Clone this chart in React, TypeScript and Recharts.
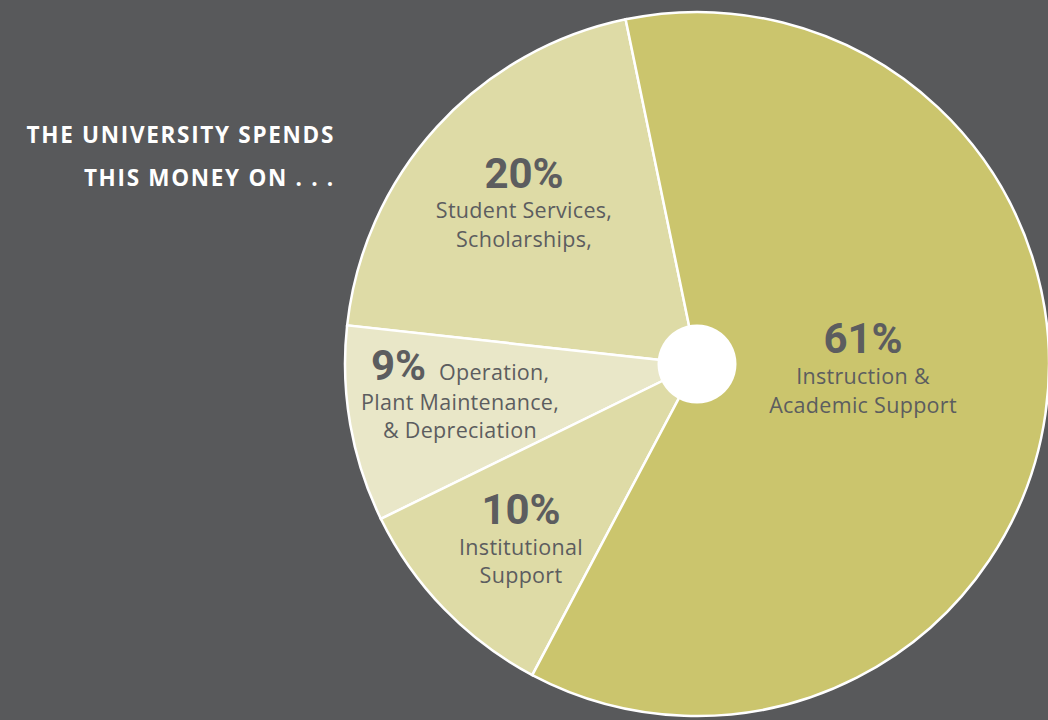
import React from "react";
import { PieChart, Pie, Cell } from "recharts";

const categories = ["Student Services", "Operation & Maintenance", "Institutional Support", "Instruction & Academic Support"];
const values = [20, 9, 10, 61];
const percentLabels = ["20%", "9%", "10%", "61%"];
const labelLines = [
  ["Student Services,", "Scholarships,"],
  ["Operation,", "Plant Maintenance,", "& Depreciation"],
  ["Institutional", "Support"],
  ["Instruction &", "Academic Support"],
];
const titleLines = ["THE UNIVERSITY SPENDS", "THIS MONEY ON . . ."];

const sliceColors = ["#dedba6", "#e9e7c8", "#dedba6", "#cbc56d"];
const BG = "#58595b";
const TEXT = "#5c5d5f";

// layout of label blocks (chart px)
const labelLayout = [
  { x: 524, pctY: 188, lineY: [218, 247], inline: false, inlineX: 0, lineX: 524 },
  { x: 371, pctY: 380, lineY: [380, 410, 438], inline: true, inlineX: 439, lineX: 460 },
  { x: 521, pctY: 524, lineY: [555, 583], inline: false, inlineX: 0, lineX: 521 },
  { x: 863, pctY: 353, lineY: [384, 413], inline: false, inlineX: 0, lineX: 863 },
];

const data = categories.map((name, i) => ({ name, value: values[i] }));
const hole = [{ name: "hole", value: 1 }];

const pctFont = { fontFamily: "Roboto", fontWeight: 700, fontSize: 42 };
const lineFont = { fontFamily: "'Open Sans'", fontWeight: 400, fontSize: 21.5, letterSpacing: 0.3 };

function renderLabel(props: any) {
  const i = props.index;
  const L = labelLayout[i];
  const lines = labelLines[i];
  return (
    <g key={"lbl" + i}>
      <text x={L.x} y={L.pctY} textAnchor={L.inline ? "start" : "middle"} fill={TEXT} style={pctFont}>
        {percentLabels[i]}
      </text>
      {lines.map((ln, j) => {
        if (L.inline && j === 0) {
          return (
            <text key={j} x={L.inlineX} y={L.lineY[j]} textAnchor="start" fill={TEXT} style={lineFont}>
              {ln}
            </text>
          );
        }
        return (
          <text key={j} x={L.lineX} y={L.lineY[j]} textAnchor="middle" fill={TEXT} style={lineFont}>
            {ln}
          </text>
        );
      })}
    </g>
  );
}

export default function App() {
  return (
    <div style={{ position: "fixed", left: 0, top: 0, width: 1048, height: 720, background: BG, overflow: "hidden" }}>
      <PieChart width={1048} height={720} margin={{ top: 0, right: 0, bottom: 0, left: 0 }}>
        <Pie
          data={data}
          dataKey="value"
          nameKey="name"
          cx={697}
          cy={364}
          outerRadius={352}
          startAngle={101.7}
          endAngle={461.7}
          stroke="#ffffff"
          strokeWidth={2.5}
          label={renderLabel}
          labelLine={false}
          isAnimationActive={false}
        >
          {data.map((d, i) => (
            <Cell key={d.name} fill={sliceColors[i]} />
          ))}
        </Pie>
        <Pie
          data={hole}
          dataKey="value"
          cx={697}
          cy={364}
          outerRadius={39.5}
          stroke="none"
          fill="#ffffff"
          isAnimationActive={false}
        />
      </PieChart>
      <svg width={1048} height={720} style={{ position: "absolute", left: 0, top: 0, pointerEvents: "none" }}>
        {titleLines.map((t, i) => (
          <text
            key={i}
            x={335}
            y={143 + i * 43}
            textAnchor="end"
            fill="#ffffff"
            style={{ fontFamily: "'Open Sans'", fontWeight: 700, fontSize: 22.5, letterSpacing: 1.7 }}
          >
            {t}
          </text>
        ))}
      </svg>
    </div>
  );
}
